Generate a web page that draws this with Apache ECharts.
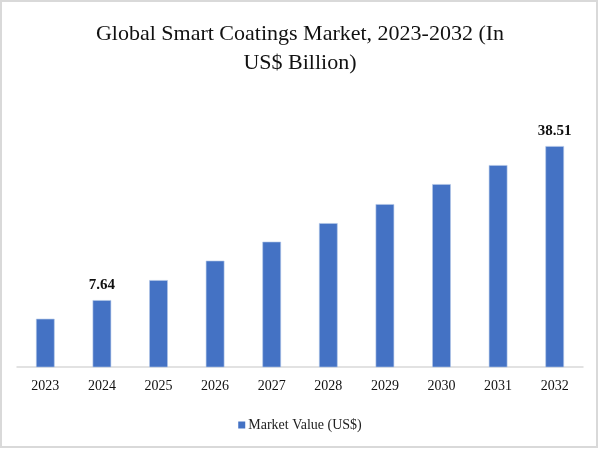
<!DOCTYPE html>
<html>
<head>
<meta charset="utf-8">
<script src="https://cdn.jsdelivr.net/npm/echarts@6/dist/echarts.min.js"></script>
<style>
html,body{margin:0;padding:0;background:#fff;}
#c{width:600px;height:452px;}
</style>
</head>
<body>
<div id="c"></div>
<script>
const titleText = 'Global Smart Coatings Market, 2023-2032 (In\nUS$ Billion)';
const seriesName = 'Market Value (US$)';
const years = ['2023','2024','2025','2026','2027','2028','2029','2030','2031','2032'];
const marketValues = [3.91, 7.64, 11.65, 15.54, 19.35, 23.07, 26.88, 30.89, 34.70, 38.51];
const labelledYears = ['2024','2032'];
const axisMin = -5.7;
const axisMax = 45;

const serif = '"Liberation Serif", "DejaVu Serif", serif';
const barColor = '#4472C4';

const chart = echarts.init(document.getElementById('c'), null, {renderer:'canvas'});
chart.setOption({
  animation:false,
  backgroundColor:'#fff',
  title:{
    text:titleText,
    left:'center',
    top:15,
    textStyle:{fontFamily:serif,fontSize:22,fontWeight:'normal',color:'#111',lineHeight:29}
  },
  graphic:[{
    type:'rect',
    shape:{x:1,y:1,width:596,height:446},
    style:{fill:'none',stroke:'#d9d9d9',lineWidth:2},
    silent:true
  }],
  legend:{
    bottom:15,
    left:'center',
    icon:'rect',
    itemWidth:7,
    itemHeight:7,
    itemGap:4,
    data:[{name:seriesName,itemStyle:{color:barColor}}],
    textStyle:{fontFamily:serif,fontSize:14,color:'#222',padding:[0,0,0,-2]}
  },
  grid:{left:17,right:17,top:114,bottom:85},
  xAxis:{
    type:'category',
    data:years,
    axisLine:{onZero:false,lineStyle:{color:'#d9d9d9',width:1.5}},
    axisTick:{show:false},
    axisLabel:{fontFamily:serif,fontSize:14,color:'#111',margin:12}
  },
  yAxis:{
    type:'value',
    min:axisMin,
    max:axisMax,
    show:false,
    splitLine:{show:false}
  },
  series:[{
    name:seriesName,
    type:'custom',
    itemStyle:{color:barColor},
    data:years.map((y,i)=>[i, marketValues[i]]),
    encode:{x:0,y:1},
    renderItem:function(params, api){
      const idx = api.value(0);
      const v = api.value(1);
      const top = api.coord([idx, v]);
      const base = api.coord([idx, axisMin]);
      const w = api.size([1,0])[0]*0.318;
      const children = [{
        type:'rect',
        shape:{x:top[0]-w/2,y:top[1],width:w,height:base[1]-top[1]},
        style:api.style({fill:barColor, stroke:'#b4c7e7', lineWidth:0.6})
      }];
      if (labelledYears.indexOf(years[idx]) >= 0) {
        children.push({
          type:'text',
          style:{
            text:v.toFixed(2),
            x:top[0],
            y:top[1]-8,
            align:'center',
            verticalAlign:'bottom',
            font:'bold 15px ' + serif,
            fill:'#111'
          }
        });
      }
      return {type:'group',children:children};
    }
  }]
});
</script>
</body>
</html>
